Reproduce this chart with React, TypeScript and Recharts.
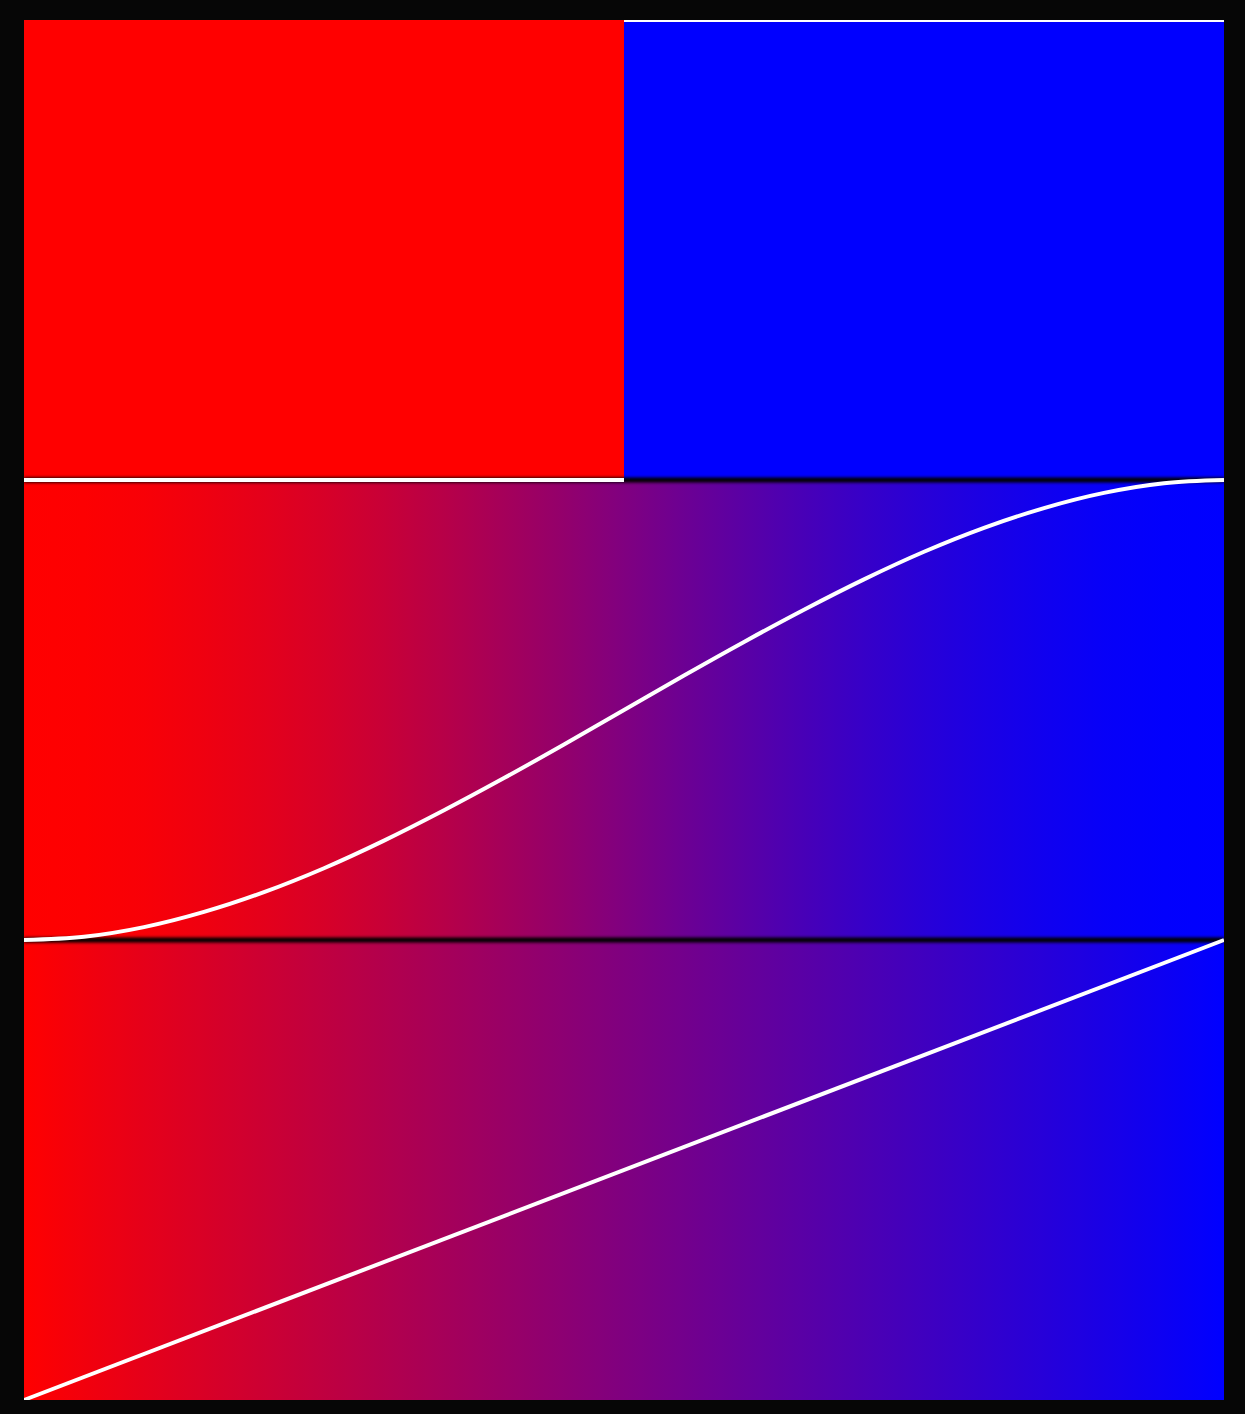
import React from "react";
import { ComposedChart, Line, XAxis, YAxis, ReferenceArea } from "recharts";

// Panel 1: step interpolation (null breaks the jump)
const stepData = [
  { x: 0, y: 0 },
  { x: 0.5, y: 0 },
  { x: 0.5, y: null },
  { x: 0.5, y: 1 },
  { x: 1, y: 1 },
];

// Panel 2: smooth (ease in-out) interpolation
const smoothX = [0, 0.05, 0.1, 0.15, 0.2, 0.25, 0.3, 0.35, 0.4, 0.45, 0.5, 0.55, 0.6, 0.65, 0.7, 0.75, 0.8, 0.85, 0.9, 0.95, 1];
const smoothY = [0, 0.007, 0.028, 0.061, 0.104, 0.156, 0.216, 0.282, 0.352, 0.425, 0.5, 0.575, 0.648, 0.718, 0.784, 0.844, 0.896, 0.939, 0.972, 0.993, 1];
const smoothData = smoothX.map((x, i) => ({ x, y: smoothY[i] }));

// Panel 3: linear interpolation
const linearData = [
  { x: 0, y: 0 },
  { x: 1, y: 1 },
];

// Separator lines between panels
const separatorData = [
  { x: 0, y: 0 },
  { x: 1, y: 0 },
];

const START = [255, 0, 0];
const END = [0, 0, 255];

const mix = (t: number) => {
  const c = START.map((s, i) => Math.round(s + (END[i] - s) * t));
  return `rgb(${c[0]},${c[1]},${c[2]})`;
};

const stopsFrom = (data: { x: number; y: number | null }[]) =>
  data
    .filter((d) => d.y !== null)
    .map((d, i) => <stop key={i} offset={d.x} stopColor={mix(d.y as number)} />);

const W = 1200;
const H = 1380;

export default function App() {
  return (
    <div
      style={{
        position: "absolute",
        left: 0,
        top: 0,
        width: 1245,
        height: 1414,
        background: "#060606",
        overflow: "hidden",
      }}
    >
      <div style={{ position: "absolute", left: 24, top: 20 }}>
        <ComposedChart width={W} height={H} margin={{ top: 0, right: 0, bottom: 0, left: 0 }}>
          <defs>
            <linearGradient id="g1" x1="0" y1="0" x2="1" y2="0">
              {stopsFrom(stepData)}
            </linearGradient>
            <linearGradient id="g2" x1="0" y1="0" x2="1" y2="0">
              {stopsFrom(smoothData)}
            </linearGradient>
            <linearGradient id="g3" x1="0" y1="0" x2="1" y2="0">
              {stopsFrom(linearData)}
            </linearGradient>
            <filter id="soft" x="-20" y="-20" width="1240" height="1420" filterUnits="userSpaceOnUse">
              <feGaussianBlur stdDeviation="0.75" />
            </filter>
            <filter id="shadow" x="-20" y="-20" width="1240" height="1420" filterUnits="userSpaceOnUse">
              <feGaussianBlur stdDeviation="1.4" />
            </filter>
          </defs>
          <XAxis type="number" dataKey="x" domain={[0, 1]} hide />
          <YAxis yAxisId="p1" type="number" domain={[-2, 1]} hide />
          <YAxis yAxisId="p2" type="number" domain={[-1, 2]} hide />
          <YAxis yAxisId="p3" type="number" domain={[0, 3]} hide />

          <ReferenceArea yAxisId="p1" x1={0} x2={1} y1={0} y2={1} fill="url(#g1)" fillOpacity={1} stroke="none" />
          <ReferenceArea yAxisId="p2" x1={0} x2={1} y1={0} y2={1} fill="url(#g2)" fillOpacity={1} stroke="none" />
          <ReferenceArea yAxisId="p3" x1={0} x2={1} y1={0} y2={1} fill="url(#g3)" fillOpacity={1} stroke="none" />

          <Line yAxisId="p1" data={separatorData} dataKey="y" type="linear" stroke="#000" strokeWidth={5} dot={false} activeDot={false} isAnimationActive={false} filter="url(#shadow)" />
          <Line yAxisId="p2" data={separatorData} dataKey="y" type="linear" stroke="#000" strokeWidth={5} dot={false} activeDot={false} isAnimationActive={false} filter="url(#shadow)" />

          <Line yAxisId="p1" data={stepData} dataKey="y" type="linear" stroke="#fff" strokeWidth={4} dot={false} activeDot={false} isAnimationActive={false} connectNulls={false} filter="url(#soft)" />
          <Line yAxisId="p2" data={smoothData} dataKey="y" type="monotone" stroke="#fff" strokeWidth={4} dot={false} activeDot={false} isAnimationActive={false} filter="url(#soft)" />
          <Line yAxisId="p3" data={linearData} dataKey="y" type="linear" stroke="#fff" strokeWidth={4} dot={false} activeDot={false} isAnimationActive={false} filter="url(#soft)" />
        </ComposedChart>
      </div>
    </div>
  );
}
